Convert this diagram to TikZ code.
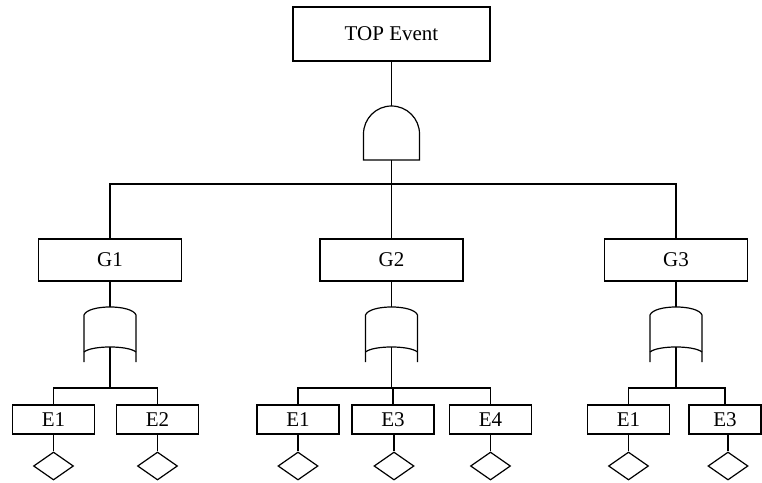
\documentclass[tikz,border=0pt]{standalone}
\usepackage{fontspec}
\setmainfont{Liberation Serif}
\usetikzlibrary{shapes.geometric}
\begin{document}
\begin{tikzpicture}[x=1pt,y=-1pt,line width=1.2pt,
  box/.style={draw,rectangle,inner sep=0pt,font=\fontsize{21}{21}\selectfont},
  topbox/.style={box,minimum width=197pt,minimum height=54pt},
  gbox/.style={box,minimum width=143pt,minimum height=42pt},
  ebox/.style={box,minimum width=82pt,minimum height=29pt},
  basic/.style={draw,diamond,inner sep=0pt,minimum width=40pt,minimum height=28pt},
  andgate/.pic={
    \draw (-28,54) -- (-28,28) .. controls (-28,12.54) and (-15.46,0) .. (0,0)
      .. controls (15.46,0) and (28,12.54) .. (28,28) -- (28,54) -- cycle;
    \coordinate (-top) at (0,0);
    \coordinate (-out) at (0,54);
  },
  orgate/.pic={
    \draw (-26,55) -- (-26,8) .. controls (-22,-2.7) and (22,-2.7) .. (26,8) -- (26,55);
    \draw (-26,45) .. controls (-18,38.3) and (18,38.3) .. (26,45);
    \coordinate (-top) at (0,0);
    \coordinate (-out) at (0,40);
  }]
\useasboundingbox (0,0) rectangle (762,482);

% top
\node[topbox] (T) at (391.5,34) {TOP Event};
\pic (A) at (391.5,106) {andgate};
\draw (T.south) -- (A-top);

% gates level
\node[gbox] (G1) at (110,260) {G1};
\node[gbox] (G2) at (391.5,260) {G2};
\node[gbox] (G3) at (676,260) {G3};
\coordinate (bar) at (391.5,184);
\draw (A-out) -- (bar);
\draw (G1.north) -- (G1.north |- bar) -- (G3.north |- bar) -- (G3.north);
\draw (G2.north) -- (bar);

% or gates
\pic (O1) at (110,307) {orgate};
\pic (O2) at (391.5,307) {orgate};
\pic (O3) at (676,307) {orgate};
\draw (G1.south) -- (O1-top);
\draw (G2.south) -- (O2-top);
\draw (G3.south) -- (O3-top);

% events
\node[ebox] (E11) at (53.5,419.5) {E1};
\node[ebox] (E12) at (157.5,419.5) {E2};
\node[ebox] (E21) at (298,419.5) {E1};
\node[ebox] (E22) at (393,419.5) {E3};
\node[ebox] (E23) at (490.5,419.5) {E4};
\node[ebox] (E31) at (628.5,419.5) {E1};
\node[box,minimum width=72pt,minimum height=29pt] (E32) at (725,419.5) {E3};

\coordinate (s1) at (110,388);
\coordinate (s2) at (391.5,388);
\coordinate (s3) at (676,388);
\draw (O1-out) -- (s1);
\draw (O2-out) -- (s2);
\draw (O3-out) -- (s3);
\draw (E11.north) |- (s1) -| (E12.north);
\draw (E21.north) |- (s2) -| (E23.north);
\draw (E22.north) -- (E22.north |- s2);
\draw (E31.north) |- (s3) -| (E32.north);

% basic events
\node[basic] (D11) at (53.5,466) {};
\node[basic] (D12) at (157.5,466) {};
\node[basic] (D21) at (298,466) {};
\node[basic] (D22) at (394,466) {};
\node[basic] (D23) at (490.5,466) {};
\node[basic] (D31) at (628.5,466) {};
\node[basic] (D32) at (728,466) {};
\draw (E11.south) -- (D11.north);
\draw (E12.south) -- (D12.north);
\draw (E21.south) -- (D21.north);
\draw (E22.south -| D22.north) -- (D22.north);
\draw (E23.south) -- (D23.north);
\draw (E31.south) -- (D31.north);
\draw (E32.south -| D32.north) -- (D32.north);
\end{tikzpicture}
\end{document}
